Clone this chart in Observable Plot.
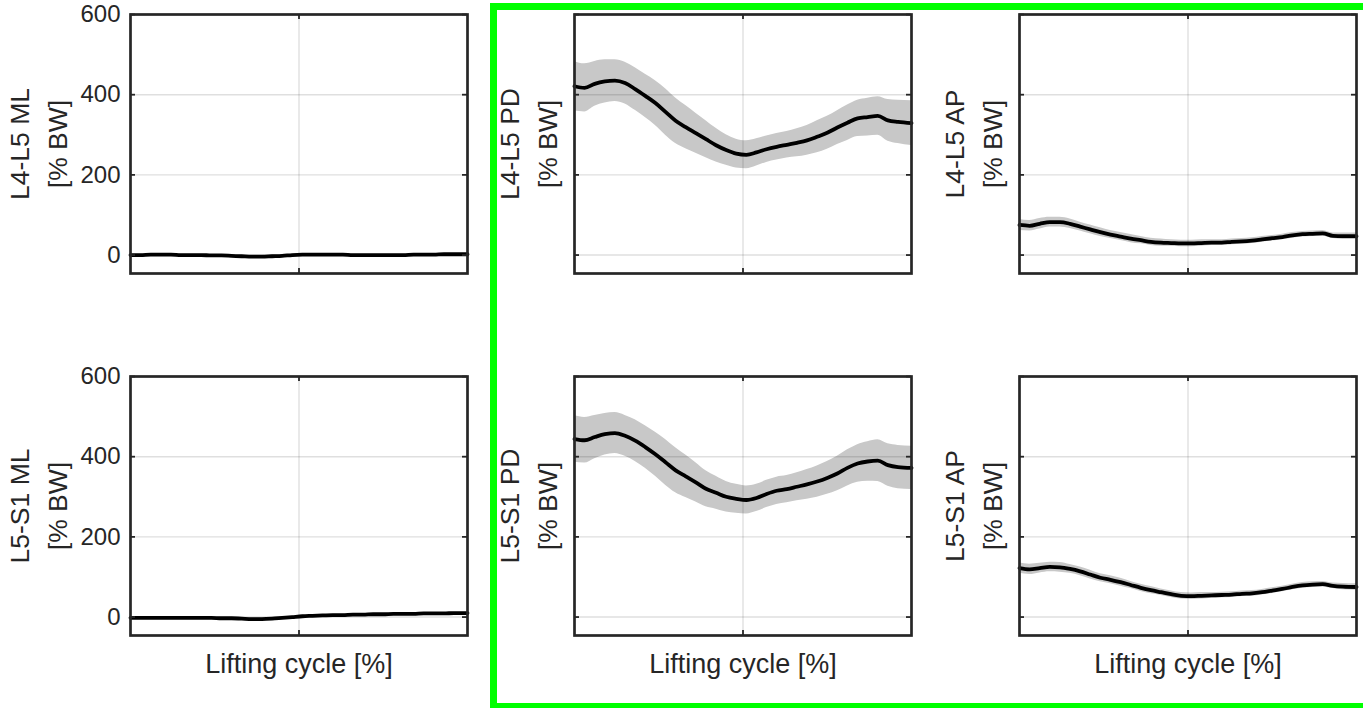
<!DOCTYPE html>
<html>
<head>
<meta charset="utf-8">
<script src="https://cdn.jsdelivr.net/npm/d3@7"></script>
<script src="https://cdn.jsdelivr.net/npm/@observablehq/plot@0.6"></script>
<style>
  html, body { margin: 0; padding: 0; background: #fff; overflow: hidden; }
  #root { position: relative; width: 1363px; height: 708px; overflow: hidden; background: #fff; }
  .panel { position: absolute; }
  #highlight { position: absolute; left: 490px; top: 3px; width: 1000px; height: 693px; border: 7px solid #00ff00; pointer-events: none; }
</style>
</head>
<body>
<div id="root"><div id="highlight"></div></div>
<script>
// ---- data: lifting cycle (% of cycle) ----
const cycle = [0,3,6,9,12,15,18,21,24,27,30,33,36,39,42,45,48,51,54,57,60,63,66,69,72,75,78,81,84,87,90,93,96,100];

// L4-L5 joint loads [% BW] (mean and standard deviation)
const l4l5ML   = [0,0,1,1,1,0,0,0,-1,-1,-2,-3,-4,-4,-3,-2,0,1,1,1,1,1,0,0,0,0,0,0,1,1,1,2,2,2];
const l4l5MLsd = [2,2,2,2,2,2,2,2,2,2,2,2,3,3,3,3,2,2,2,2,2,2,2,2,2,2,2,2,2,2,2,2,2,2];
const l4l5PD   = [421,417,427,433,435,429,414,397,379,357,335,319,304,289,274,262,253,250,256,264,270,275,280,286,295,305,318,330,341,344,347,336,332,329];
const l4l5PDsd = [62,60,56,54,52,52,53,54,56,58,57,54,50,46,42,38,36,35,34,33,33,33,35,37,40,41,42,44,45,47,48,52,54,56];
const l4l5AP   = [75,73,78,82,82,78,71,64,57,51,46,41,37,33,31,30,29,29,30,31,31,33,34,36,39,42,45,49,52,53,54,48,47,47];
const l4l5APsd = [14,13,13,12,12,12,11,11,11,10,10,10,9,9,9,8,8,8,8,7,7,7,7,7,7,7,7,7,7,7,7,7,8,8];

// L5-S1 joint loads [% BW]
const l5s1ML   = [-2,-2,-2,-2,-2,-2,-2,-2,-2,-3,-3,-4,-5,-5,-4,-2,0,2,3,4,5,5,6,6,7,7,8,8,8,9,9,9,10,10];
const l5s1MLsd = [2,2,2,2,2,2,2,2,2,2,2,2,3,3,3,3,2,2,2,2,2,2,2,2,2,2,2,2,2,2,2,2,2,2];
const l5s1PD   = [444,441,449,456,459,452,440,424,406,386,366,351,336,320,310,300,295,292,297,307,315,319,325,331,338,347,358,372,383,388,390,379,374,372];
const l5s1PDsd = [58,57,54,52,51,51,52,53,55,57,56,53,49,45,41,38,36,35,34,34,34,34,35,37,39,41,43,45,47,49,52,53,54,54];
const l5s1AP   = [122,119,122,125,124,120,114,106,98,93,87,80,73,67,62,57,53,52,53,54,55,56,58,59,62,66,70,75,79,81,82,78,76,75];
const l5s1APsd = [13,13,12,12,12,11,11,11,10,10,10,9,9,9,8,8,8,8,8,7,7,7,7,7,7,7,7,7,7,7,7,7,8,8];

const yTicks = [0, 200, 400, 600];
const xTicks = [50];
const yLabels = ["L4-L5 ML", "L4-L5 PD", "L4-L5 AP", "L5-S1 ML", "L5-S1 PD", "L5-S1 AP"];
const unitLabel = "[% BW]";
const xLabel = "Lifting cycle [%]";

const series = [
  {label: yLabels[0], mean: l4l5ML, sd: l4l5MLsd, col: 0, row: 0},
  {label: yLabels[1], mean: l4l5PD, sd: l4l5PDsd, col: 1, row: 0},
  {label: yLabels[2], mean: l4l5AP, sd: l4l5APsd, col: 2, row: 0},
  {label: yLabels[3], mean: l5s1ML, sd: l5s1MLsd, col: 0, row: 1},
  {label: yLabels[4], mean: l5s1PD, sd: l5s1PDsd, col: 1, row: 1},
  {label: yLabels[5], mean: l5s1AP, sd: l5s1APsd, col: 2, row: 1}
];

// ---- layout ----
const innerW = 337, innerH = 259;
const cols = [
  {left: 0,   ml: 130, mr: 8, labelDx: -95},
  {left: 484, ml: 90,  mr: 8, labelDx: -48.5},
  {left: 924, ml: 95,  mr: 7, labelDx: -48.5}
];
const rows = [
  {top: 0,   mt: 14, mb: 20},
  {top: 346, mt: 30, mb: 60}
];
const ink = "#262626";
const font = "'Liberation Sans', Arial, Helvetica, sans-serif";

const root = document.getElementById("root");

for (const s of series) {
  const c = cols[s.col], r = rows[s.row];
  const data = cycle.map((t, i) => ({t, m: s.mean[i], lo: s.mean[i] - s.sd[i], hi: s.mean[i] + s.sd[i]}));
  const marks = [
    Plot.areaY(data, {x: "t", y1: "lo", y2: "hi", fill: "#c8c8c8", curve: "monotone-x"}),
    Plot.gridX(xTicks, {stroke: ink, strokeOpacity: 0.15, strokeWidth: 1.4}),
    Plot.gridY(yTicks, {stroke: ink, strokeOpacity: 0.15, strokeWidth: 1.4}),
    Plot.line(data, {x: "t", y: "m", stroke: "#000", strokeWidth: 3.8, curve: "monotone-x"}),
    Plot.tickY(yTicks, {y: d => d, insetRight: innerW - 5, stroke: ink, strokeWidth: 1.8}),
    Plot.tickY(yTicks, {y: d => d, insetLeft: innerW - 5, stroke: ink, strokeWidth: 1.8}),
    Plot.tickX(xTicks, {x: d => d, insetBottom: innerH - 5, stroke: ink, strokeWidth: 1.8}),
    Plot.tickX(xTicks, {x: d => d, insetTop: innerH - 5, stroke: ink, strokeWidth: 1.8}),
    Plot.frame({stroke: ink, strokeWidth: 2.7}),
    Plot.text([s.label + "\n" + unitLabel], {
      text: d => d, frameAnchor: "left", rotate: -90, dx: c.labelDx,
      textAnchor: "middle", lineAnchor: "middle",
      lineHeight: 1.43, fontSize: 26.5, fill: ink
    })
  ];
  if (s.col === 0) {
    marks.push(Plot.axisY(yTicks, {tickSize: 0, tickPadding: 10, fontSize: 24, label: null, fill: ink}));
  }
  if (s.row === 1) {
    marks.push(Plot.text([xLabel], {text: d => d, frameAnchor: "bottom", lineAnchor: "top", dy: 18, fontSize: 27, fill: ink}));
  }
  const svg = Plot.plot({
    width: c.ml + innerW + c.mr,
    height: r.mt + innerH + r.mb,
    marginLeft: c.ml, marginRight: c.mr, marginTop: r.mt, marginBottom: r.mb,
    x: {domain: [0, 100], axis: null},
    y: {domain: [-46, 600], axis: null},
    style: {fontFamily: font, background: "transparent", overflow: "visible", color: ink},
    marks
  });
  svg.classList.add("panel");
  svg.style.left = c.left + "px";
  svg.style.top = r.top + "px";
  root.insertBefore(svg, document.getElementById("highlight"));
}
</script>
</body>
</html>
